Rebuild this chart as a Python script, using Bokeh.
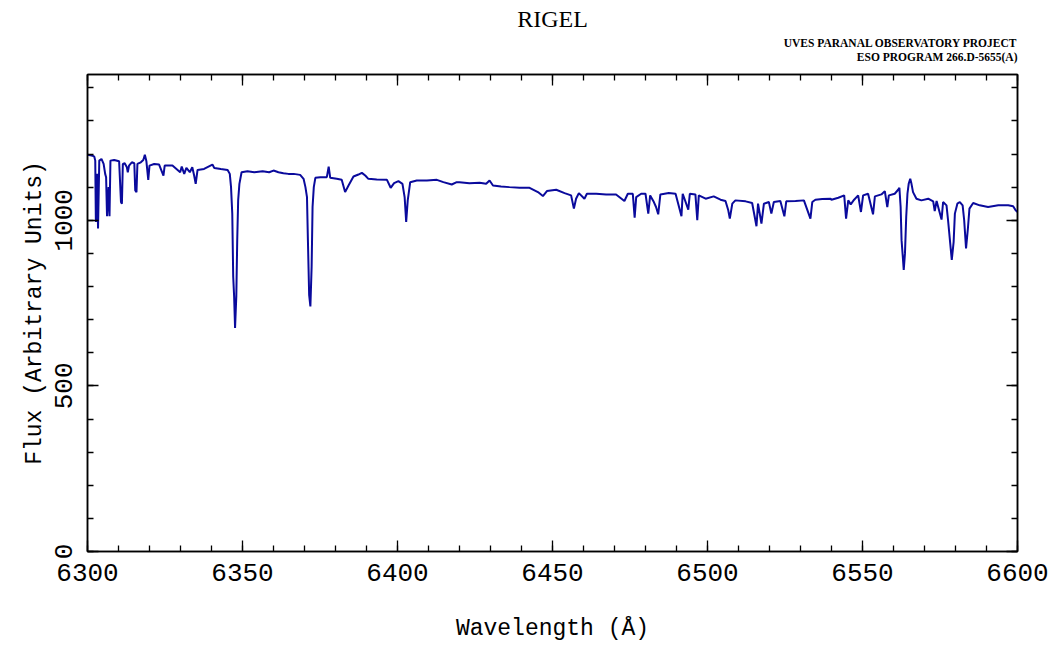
from bokeh.plotting import figure
from bokeh.models import (Range1d, LinearAxis, SingleIntervalTicker, Title, ColumnDataSource,
                          CustomJSTickFormatter)
from bokeh.embed import file_html
from bokeh.resources import INLINE

# Spectrum of Rigel (wavelength in Angstrom, flux in arbitrary units)
wavelength = [
    6300.0, 6300.9, 6301.6, 6302.2, 6302.5, 6302.7, 6302.9, 6303.1, 6303.4, 6303.8,
    6304.5, 6305.2, 6305.7, 6306.0, 6306.3, 6306.8, 6307.1, 6307.4, 6308.6, 6310.2,
    6310.8, 6311.1, 6311.4, 6312.0, 6312.7, 6313.0, 6313.4, 6314.3, 6315.1, 6315.4,
    6315.8, 6316.1, 6317.2, 6318.0, 6318.5, 6319.0, 6319.6, 6320.0, 6321.5, 6323.1,
    6324.5, 6324.9, 6327.4, 6329.9, 6330.4, 6331.2, 6331.9, 6333.0, 6333.8, 6334.4,
    6334.9, 6335.5, 6337.6, 6340.3, 6340.9, 6343.0, 6345.2, 6345.9, 6346.3, 6346.7,
    6347.0, 6347.3, 6347.6, 6348.0, 6348.3, 6348.6, 6349.0, 6349.7, 6351.6, 6353.8,
    6356.5, 6358.6,
    6360.0, 6361.6, 6363.2, 6364.8, 6366.5, 6368.6, 6369.7, 6370.3, 6370.8, 6371.1,
    6371.5, 6371.9, 6372.3, 6372.6, 6373.0, 6373.5, 6375.1, 6377.2, 6377.8, 6378.3,
    6380.4, 6382.0, 6383.1, 6384.2, 6385.8, 6387.4, 6388.5, 6389.6, 6390.6, 6393.3,
    6396.6, 6397.8, 6398.9, 6400.3, 6401.6, 6402.3, 6402.8, 6403.3, 6404.1, 6406.2,
    6409.5, 6412.7, 6414.8, 6417.5, 6419.1,
    6420.0, 6423.2, 6426.5, 6428.6, 6429.7, 6430.8, 6433.4, 6436.1, 6439.4, 6442.6,
    6445.3, 6446.9, 6448.2, 6451.2, 6453.9, 6456.0, 6456.9, 6457.6, 6458.5, 6460.3,
    6461.1, 6464.1, 6467.3, 6470.5, 6473.2, 6474.3, 6475.9, 6476.5, 6477.0, 6478.6,
    6480.0, 6480.9, 6481.5, 6482.7, 6483.4, 6484.1, 6484.8, 6487.5, 6489.7, 6491.6,
    6492.0, 6493.8, 6494.3, 6496.1, 6496.7, 6497.2, 6499.4, 6502.0, 6504.2, 6505.8,
    6506.7, 6507.2, 6508.0, 6509.0, 6512.3, 6514.4, 6515.8, 6516.3, 6517.4, 6518.2,
    6519.8, 6520.6, 6521.4, 6523.5, 6524.8, 6525.4, 6528.4, 6531.1, 6533.2, 6533.8,
    6534.8, 6537.0, 6539.7,
    6540.0, 6542.2, 6544.1, 6544.7, 6545.4, 6546.2, 6547.3, 6548.6, 6549.5, 6550.2,
    6551.8, 6553.4, 6554.0, 6556.1, 6557.2, 6558.0, 6558.5, 6560.4, 6561.5, 6561.9,
    6562.3, 6562.6, 6563.0, 6563.3, 6563.7, 6564.1, 6564.5, 6564.9, 6565.4, 6565.8,
    6566.3, 6567.4, 6569.0, 6571.2, 6572.8, 6573.3, 6573.9, 6575.5, 6576.0, 6577.1,
    6577.6, 6578.3, 6578.8, 6579.4, 6579.8, 6580.6, 6581.4, 6582.3, 6582.8, 6583.4,
    6584.0, 6584.5, 6585.7, 6587.8, 6590.5, 6593.8, 6597.0, 6598.6, 6599.4, 6600.0,
]
flux = [
    1198, 1196, 1195, 1192, 1180, 995, 1120, 1140, 975, 1180,
    1185, 1170, 1140, 1130, 1012, 1100, 1012, 1180, 1182, 1178,
    1055, 1050, 1170, 1172, 1160, 1145, 1165, 1175, 1172, 1090,
    1085, 1170, 1175, 1182, 1198, 1178, 1122, 1165, 1170, 1168,
    1135, 1165, 1165, 1145, 1162, 1140, 1158, 1145, 1160, 1135,
    1110, 1152, 1155, 1168, 1158, 1155, 1152, 1140, 1100, 1020,
    830, 770, 675, 770, 940, 1060, 1110, 1145, 1148, 1145,
    1148, 1145,
    1150, 1145, 1142, 1140, 1140, 1137, 1125, 1100, 1070, 940,
    775, 740, 860, 1040, 1100, 1128, 1130, 1130, 1162, 1128,
    1125, 1122, 1085, 1105, 1132, 1138, 1143, 1135, 1125, 1123,
    1122, 1098, 1112, 1118, 1110, 1070, 995, 1060, 1115, 1120,
    1120, 1122, 1115, 1108, 1115,
    1115, 1112, 1113, 1110, 1120, 1105, 1102, 1100, 1098, 1098,
    1085, 1073, 1088, 1092, 1082, 1075, 1035, 1065, 1082, 1065,
    1080, 1080, 1078, 1078, 1058, 1080, 1080, 1008, 1070, 1080,
    1080, 1020, 1075, 1055, 1040, 1018, 1078, 1082, 1080, 1012,
    1080, 1032, 1080, 1078, 1000, 1075, 1065, 1072, 1062, 1058,
    1030, 1005, 1050, 1060, 1057, 1052, 982, 1050, 990, 1050,
    1055, 1020, 1055, 1058, 1012, 1057, 1058, 1060, 1005, 1055,
    1062, 1064, 1065,
    1062, 1068, 1075, 1005, 1060, 1048, 1062, 1075, 1025, 1075,
    1080, 1018, 1072, 1078, 1088, 1040, 1075, 1080, 1092, 1098,
    1040, 940, 890, 850, 900, 1010, 1080, 1110, 1125, 1110,
    1085, 1065, 1060, 1065, 1057, 1028, 1058, 1002, 1055, 1045,
    1000, 930, 880, 935, 1020, 1050, 1055, 1045, 1000, 915,
    975, 1035, 1052, 1045, 1040, 1045, 1045, 1042, 1030, 1025,
]

title_text = "RIGEL"
project_lines = ["UVES PARANAL OBSERVATORY PROJECT", "ESO PROGRAM 266.D-5655(A)"]
x_label = "Wavelength (\u00c5)"
y_label = "Flux (Arbitrary Units)"

MONO = "Liberation Mono"
SERIF = "Liberation Serif"

p = figure(width=1052, height=645, output_backend="svg", toolbar_location=None, title=None,
           x_range=Range1d(6300, 6600), y_range=Range1d(0, 1440),
           min_border_left=87, min_border_right=35, min_border_top=74, min_border_bottom=94)
p.background_fill_color = "white"
p.border_fill_color = "white"
p.outline_line_color = "black"
p.outline_line_width = 1.5
p.xgrid.visible = False
p.ygrid.visible = False

src = ColumnDataSource(dict(x=wavelength, y=flux))
p.line("x", "y", source=src, line_color="#0a0a9c", line_width=2.0)

blank = CustomJSTickFormatter(code="return ''")

def style_axis(ax, show_labels=True):
    ax.axis_line_color = "black"
    ax.axis_line_width = 1.5
    ax.major_tick_in = 11
    ax.major_tick_out = 0
    ax.minor_tick_in = 6
    ax.minor_tick_out = 0
    ax.major_tick_line_width = 1.3
    ax.minor_tick_line_width = 1.3
    ax.major_tick_line_color = "black"
    ax.minor_tick_line_color = "black"
    ax.major_label_text_font = MONO
    ax.major_label_text_font_size = "26px"
    ax.major_label_text_color = "black"
    ax.axis_label_text_font = MONO
    ax.axis_label_text_font_size = "23px"
    ax.axis_label_text_font_style = "normal"
    ax.axis_label_text_color = "black"
    if not show_labels:
        ax.formatter = blank
        ax.major_label_standoff = 0

xa = p.xaxis[0]
xa.ticker = SingleIntervalTicker(interval=50, num_minor_ticks=5)
style_axis(xa)
xa.axis_label = x_label
xa.major_label_standoff = 12
xa.axis_label_standoff = 32

ya = p.yaxis[0]
ya.ticker = SingleIntervalTicker(interval=500, num_minor_ticks=5)
style_axis(ya)
ya.axis_label = y_label
ya.major_label_orientation = "vertical"
ya.major_label_standoff = 16
ya.axis_label_standoff = 4

top = LinearAxis(ticker=SingleIntervalTicker(interval=50, num_minor_ticks=5))
style_axis(top, show_labels=False)
p.add_layout(top, "above")
right = LinearAxis(ticker=SingleIntervalTicker(interval=500, num_minor_ticks=5))
style_axis(right, show_labels=False)
p.add_layout(right, "right")

# invisible spacer between the frame and the header lines
spacer = LinearAxis(ticker=SingleIntervalTicker(interval=50, num_minor_ticks=0), formatter=blank)
spacer.axis_line_color = None
spacer.major_tick_line_color = None
spacer.minor_tick_line_color = None
spacer.major_tick_in = 0
spacer.major_tick_out = 12
spacer.minor_tick_out = 0
spacer.major_label_standoff = 0
p.add_layout(spacer, "above")

# stacked outward from the frame: second project line, first project line, star name
p.add_layout(Title(text=project_lines[1], align="right", text_font=SERIF, text_font_size="11.5px",
                   text_font_style="bold", text_color="black", standoff=0), "above")
p.add_layout(Title(text=project_lines[0], align="right", text_font=SERIF, text_font_size="11.5px",
                   text_font_style="bold", text_color="black", standoff=0), "above")
p.add_layout(Title(text=title_text, align="center", text_font=SERIF, text_font_size="24px",
                   text_font_style="normal", text_color="black", standoff=6), "above")

open("out.html", "w").write(file_html(p, INLINE))
